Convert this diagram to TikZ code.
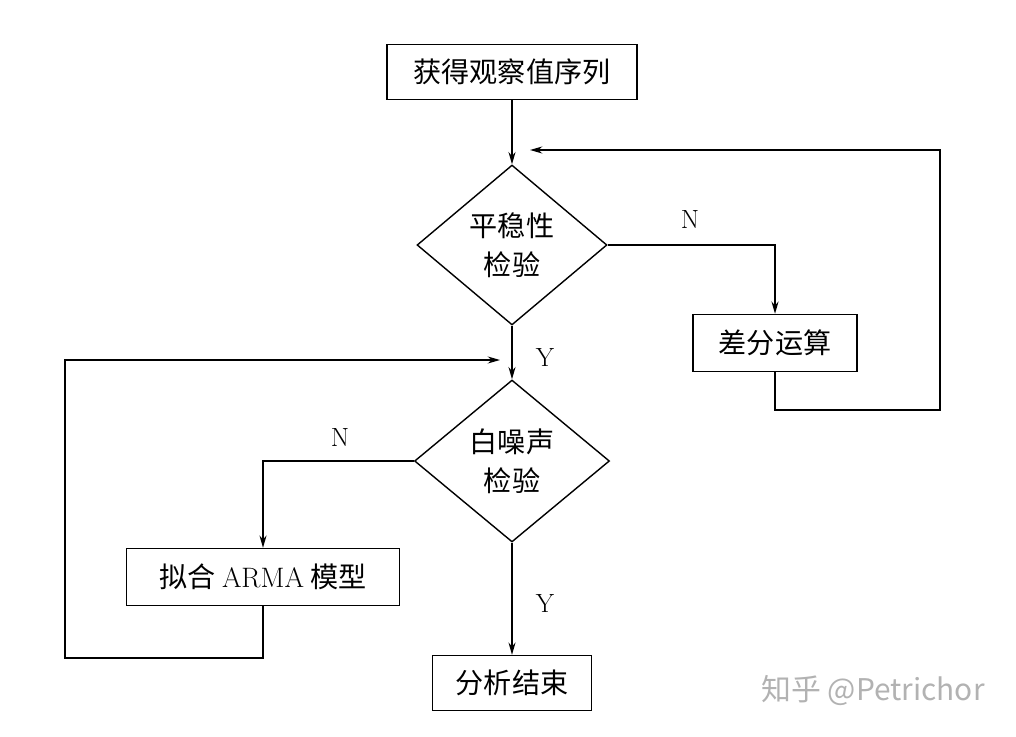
\documentclass[tikz,border=0pt]{standalone}
\usepackage{fontspec}
\newfontfamily\cjk{Noto Sans CJK SC}
\usetikzlibrary{shapes.geometric,arrows.meta}
\begin{document}
\begin{tikzpicture}[x=0.02cm,y=-0.02cm,
  box/.style={draw,line width=0.8pt,inner sep=0pt,font=\fontsize{16}{19}\selectfont\cjk},
  dia/.style={draw,diamond,aspect=1.19,line width=0.8pt,inner sep=0pt,minimum width=3.8cm,minimum height=3.2cm,align=center,font=\fontsize{16}{22}\selectfont\cjk},
  lab/.style={font=\fontsize{15}{18}\selectfont},
  arr/.style={line width=0.8pt,-{Stealth[length=7pt,width=4pt]}},
  ln/.style={line width=0.8pt}]
\useasboundingbox (0,0) rectangle (1016,736);
\node[box,minimum width=5cm,minimum height=1.1cm] (a) at (512,72) {获得观察值序列};
\node[dia] (d1) at (512,245) {平稳性\\检验};
\node[box,minimum width=3.28cm,minimum height=1.14cm] (c) at (775,343) {差分运算};
\node[dia,minimum width=3.9cm,minimum height=3.24cm] (d2) at (512,461) {白噪声\\检验};
\node[box,minimum width=5.46cm,minimum height=1.14cm] (f) at (263,577) {拟合 {\rmfamily ARMA} 模型};
\node[box,minimum width=3.18cm,minimum height=1.1cm] (e) at (512,683) {分析结束};
\coordinate (r2) at (940,410); \coordinate (r4) at (530,150);
\coordinate (l2) at (65,658); \coordinate (l4) at (500,360);
\draw[arr] (a) -- (d1);
\draw[arr] (d1.east) -| (c.north);
\draw[arr] (d1) -- (d2);
\draw[arr] (d2.west) -| (f.north);
\draw[arr] (d2) -- (e);
\draw[arr] (c.south) |- (r2) |- (r4);
\draw[arr] (f.south) |- (l2) |- (l4);
\node[lab] (n1) at (690,220) {N};
\node[lab] (y1) at (545,357) {Y};
\node[lab] (n2) at (340,437) {N};
\node[lab] (y2) at (545,603) {Y};
\node[text=gray!60,font=\fontsize{17}{20}\selectfont\cjk] (w) at (873,691) {知乎 @Petrichor};
\end{tikzpicture}
\end{document}
